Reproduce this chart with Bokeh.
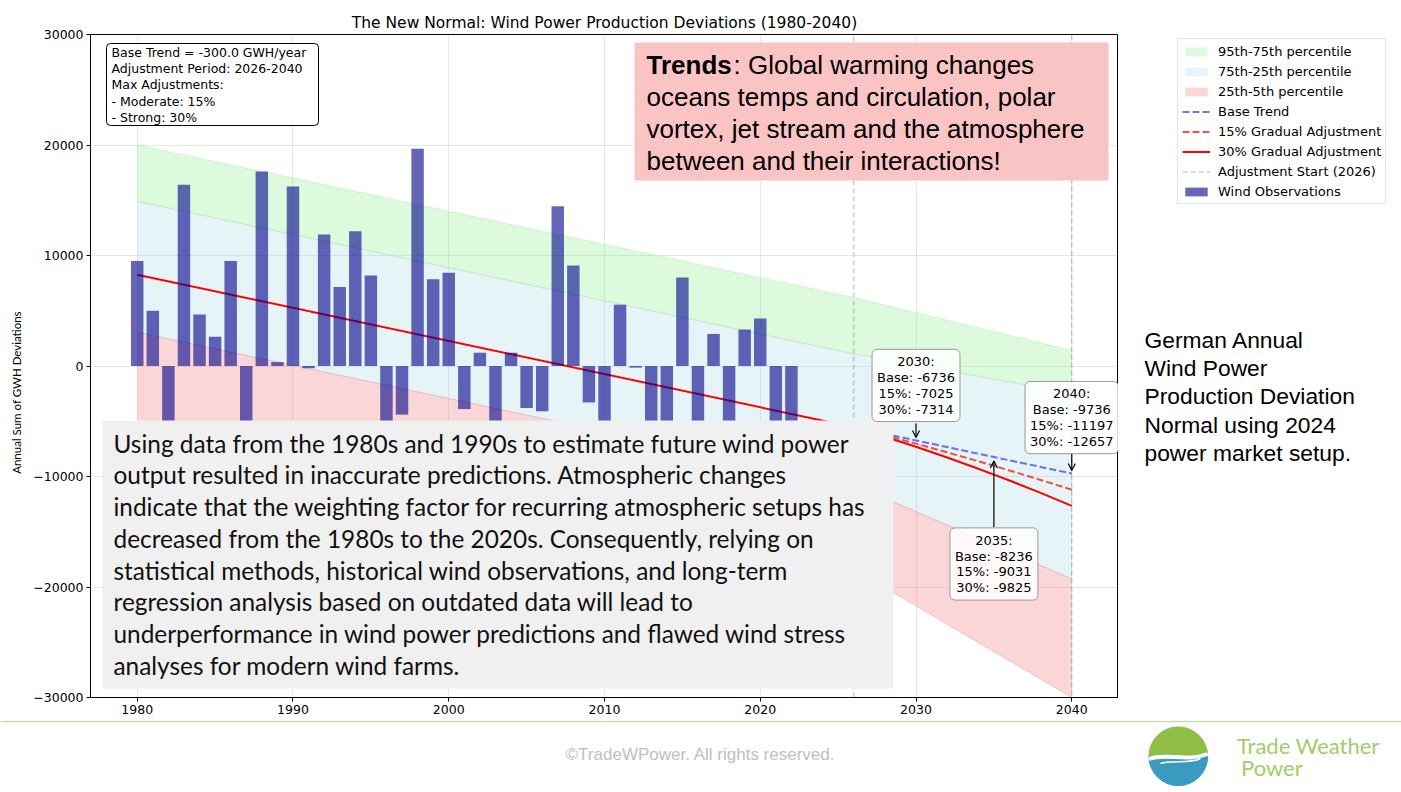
import math
from bokeh.plotting import figure
from bokeh.layouts import column, row
from bokeh.models import (Range1d, Label, Arrow, OpenHead, Legend, LegendItem,
                          BoxAnnotation, FixedTicker, CustomJSTickFormatter, Span)
from bokeh.embed import file_html
from bokeh.resources import INLINE

# ---------------- data ----------------
YEARS = list(range(1980, 2023))
WIND_OBS = [9500, 5000, -7000, 16400, 4650, 2650, 9500, -9500, 17600, 350,
            16250, -200, 11900, 7150, 12200, 8200, -8000, -4400, 19650, 7850,
            8450, -3900, 1200, -6500, 1200, -3800, -4100, 14450, 9100, -3300,
            -11000, 5550, -150, -7500, -10000, 8000, -8500, 2900, -12000, 3300,
            4300, -9000, -6500]

TREND_SLOPE = -300.0
TREND_YEARS = [1980, 2026]
TREND_VALUES = [8264, -5536]

ADJ_START = 2026
ADJ_END = 2040
MAX_ADJ = [15, 30]

PROJ_YEARS = [2026, 2028, 2030, 2032, 2034, 2035, 2036, 2038, 2040]
BASE_PROJ = [-5536, -6136, -6736, -7336, -7936, -8236, -8536, -9136, -9736]
ADJ15_PROJ = [-5536, -6267, -7025, -7808, -8616, -9031, -9451, -10311, -11197]
ADJ30_PROJ = [-5536, -6399, -7314, -8279, -9296, -9825, -10365, -11485, -12657]

BAND_YEARS = [1980, 2026, 2040]
P95 = [20000, 6200, 1400]
P75 = [14900, 1100, -2450]
P25 = [3060, -10740, -19260]
P5 = [-9000, -18400, -30000]

ANN_YEARS = [2030, 2035, 2040]
ANN_BASE = [-6736, -8236, -9736]
ANN_15 = [-7025, -9031, -11197]
ANN_30 = [-7314, -9825, -12657]

X_TICKS = [1980, 1990, 2000, 2010, 2020, 2030, 2040]
Y_TICKS = [-30000, -20000, -10000, 0, 10000, 20000, 30000]
X_START, X_END = 1977, 2043
Y_START, Y_END = -30000, 30000

TITLE = "The New Normal: Wind Power Production Deviations (1980-2040)"
Y_LABEL = "Annual Sum of GWH Deviations"
TRENDS_LINES = ["oceans temps and circulation, polar",
                "vortex, jet stream and the atmosphere",
                "between and their interactions!"]
NOTE_LINES = ["Using data from the 1980s and 1990s to estimate future wind power",
              "output resulted in inaccurate predictions. Atmospheric changes",
              "indicate that the weighting factor for recurring atmospheric setups has",
              "decreased from the 1980s to the 2020s. Consequently, relying on",
              "statistical methods, historical wind observations, and long-term",
              "regression analysis based on outdated data will lead to",
              "underperformance in wind power predictions and flawed wind stress",
              "analyses for modern wind farms."]
SIDE_LINES = ["German Annual", "Wind Power", "Production Deviation",
              "Normal using 2024", "power market setup."]

# ---------------- layout helpers ----------------
W, H_MAIN, H_FOOT = 1401, 720, 72
W_LEFT, W_SIDE = 26, 283
FL, FT, FB = 90, 34, 23
W_PLOT = W - W_LEFT - W_SIDE
FW, FH = W_PLOT - (FL - W_LEFT), H_MAIN - FT - FB
PXY = (Y_END - Y_START) / FH


def sx(px):
    return X_START + (px - FL) * (X_END - X_START) / FW


def sy(py):
    return Y_END - (py - FT) * (Y_END - Y_START) / FH


DV = "DejaVu Sans"

p = figure(width=W_PLOT, height=H_MAIN, x_range=Range1d(X_START, X_END),
           y_range=Range1d(Y_START, Y_END), toolbar_location=None,
           output_backend="svg", min_border_left=FL - W_LEFT, min_border_right=0,
           min_border_top=FT, min_border_bottom=FB, title=TITLE)
p.frame_align = False
p.title.align = "center"
p.title.text_font = DV
p.title.text_font_size = "15.5px"
p.title.text_font_style = "normal"
p.title.text_color = "black"
p.title.standoff = 6
p.outline_line_color = "black"
p.outline_line_alpha = 1
p.background_fill_color = "white"

for ax in (p.xaxis, p.yaxis):
    ax.minor_tick_line_color = None
    ax.major_tick_in = 0
    ax.major_tick_out = 4
    ax.major_label_text_font = DV
    ax.major_label_text_font_size = "12.5px"
    ax.major_label_text_color = "black"
    ax.axis_line_color = "black"
    ax.major_tick_line_color = "black"
p.xaxis.ticker = FixedTicker(ticks=X_TICKS)
p.yaxis.ticker = FixedTicker(ticks=Y_TICKS)
p.xaxis.major_label_standoff = 3
p.yaxis.major_label_standoff = 3
p.yaxis.formatter = CustomJSTickFormatter(
    code="return tick < 0 ? '\u2212' + Math.abs(tick) : String(tick);")
p.grid.grid_line_color = "#b0b0b0"
p.grid.grid_line_alpha = 0.3

# bands
r_g = p.varea(x=BAND_YEARS, y1=P75, y2=P95, fill_color="lightgreen", fill_alpha=0.3)
r_b = p.varea(x=BAND_YEARS, y1=P25, y2=P75, fill_color="lightblue", fill_alpha=0.3)
r_r = p.varea(x=BAND_YEARS, y1=P5, y2=P25, fill_color="lightcoral", fill_alpha=0.32)
for arr, col in ((P95, "lightgreen"), (P75, "lightgreen"), (P75, "lightblue"),
                 (P25, "lightblue"), (P25, "lightcoral"), (P5, "lightcoral")):
    p.line(BAND_YEARS, arr, color=col, alpha=0.35, line_width=1)

# historical trend, then bars on top
p.line(TREND_YEARS, TREND_VALUES, color="red", line_width=2)
p.vbar(x=YEARS, top=WIND_OBS, bottom=0, width=0.8,
       fill_color="darkblue", fill_alpha=0.6, line_color=None)

# adjustment lines
VLINE = dict(line_color="gray", line_alpha=0.4, line_dash="5 3", line_width=1.5)
p.line([ADJ_START, ADJ_START], [Y_START, Y_END], **VLINE)
p.add_layout(Span(location=ADJ_END, dimension="height", **VLINE))
BASE_STYLE = dict(line_color="blue", line_alpha=0.55, line_dash="7 3", line_width=2)
A15_STYLE = dict(line_color="red", line_alpha=0.7, line_dash="7 3", line_width=2)
A30_STYLE = dict(line_color="red", line_width=2)
p.line(PROJ_YEARS, BASE_PROJ, **BASE_STYLE)
p.line(PROJ_YEARS, ADJ15_PROJ, **A15_STYLE)
p.line(PROJ_YEARS, ADJ30_PROJ, **A30_STYLE)

# info box
info = (f"Base Trend = {TREND_SLOPE:.1f} GWH/year\n"
        f"Adjustment Period: {ADJ_START}-{ADJ_END}\n"
        f"Max Adjustments:\n- Moderate: {MAX_ADJ[0]}%\n- Strong: {MAX_ADJ[1]}%")
p.add_layout(BoxAnnotation(left=sx(106), right=sx(318), top=sy(43), bottom=sy(125),
                           fill_color="white", fill_alpha=0.9, line_color="black",
                           line_width=1, line_alpha=1, border_radius=4))
p.add_layout(Label(x=sx(111), y=sy(44), text=info, text_align="left",
                   text_baseline="top", text_font=DV, text_font_size="12.5px",
                   text_line_height=1.09, text_color="black"))

# big gray note box
p.add_layout(BoxAnnotation(left=sx(102), right=sx(893), top=sy(420), bottom=sy(688),
                           fill_color="#f0f0f0", fill_alpha=1, line_color=None))
for i, ln in enumerate(NOTE_LINES):
    p.add_layout(Label(x=sx(113), y=sy(442.5 + i * 31.75), text=ln, text_align="left",
                       text_baseline="middle", text_font="Lato",
                       text_font_size="24.4px", text_color="#111111"))

# trends pink box
p.add_layout(BoxAnnotation(left=sx(634), right=sx(1108), top=sy(42), bottom=sy(180),
                           fill_color="#fac4c4", fill_alpha=1, line_color=None))
p.add_layout(Label(x=sx(646), y=sy(64.5), text="Trends", text_align="left",
                   text_baseline="middle", text_font="Liberation Sans",
                   text_font_style="bold", text_font_size="26px", text_color="black"))
p.add_layout(Label(x=sx(733), y=sy(64.5), text=": Global warming changes",
                   text_align="left", text_baseline="middle",
                   text_font="Liberation Sans", text_font_size="26px", text_color="black"))
for i, ln in enumerate(TRENDS_LINES):
    p.add_layout(Label(x=sx(646), y=sy(96.5 + i * 32), text=ln, text_align="left",
                       text_baseline="middle", text_font="Liberation Sans",
                       text_font_size="26px", text_color="black"))

# annotations with arrows
BOX_OFF = [55, -107, 56]
ARR_START = [17, -70, 20]
ARR_END = [3, -4, 3]
for yr, b, a15, a30, bo, st, en in zip(ANN_YEARS, ANN_BASE, ANN_15, ANN_30,
                                        BOX_OFF, ARR_START, ARR_END):
    p.add_layout(Arrow(end=OpenHead(size=7, line_width=1.2, line_color="black"),
                       x_start=yr, y_start=b + st * PXY, x_end=yr, y_end=b + en * PXY,
                       line_width=1.2, line_color="black"))
    p.add_layout(Label(x=yr, y=b + bo * PXY,
                       text=f"{yr}:\nBase: {b}\n15%: {a15}\n30%: {a30}",
                       text_align="center", text_baseline="middle", text_font=DV,
                       text_font_size="13px", text_line_height=1.05,
                       text_color="black",
                       background_fill_color="white", background_fill_alpha=0.85,
                       border_line_color="#999999", border_line_width=1,
                       border_radius=5, padding=5))

# ---------------- left strip (y label) ----------------
lf = figure(width=W_LEFT, height=H_MAIN, x_range=Range1d(0, W_LEFT),
            y_range=Range1d(0, H_MAIN), toolbar_location=None, output_backend="svg",
            min_border=0, x_axis_type=None, y_axis_type=None)
lf.frame_align = False
lf.outline_line_color = None
lf.grid.visible = False
lf.add_layout(Label(x=16, y=H_MAIN - 392, text=Y_LABEL, angle=math.pi / 2,
                    text_align="center", text_baseline="middle", text_font="Lato",
                    text_font_size="11.5px", text_color="black"))

# ---------------- right strip (legend + side text) ----------------
sf = figure(width=W_SIDE, height=H_MAIN, x_range=Range1d(0, W_SIDE),
            y_range=Range1d(0, H_MAIN), toolbar_location=None, output_backend="svg",
            min_border=0, x_axis_type=None, y_axis_type=None)
sf.frame_align = False
sf.outline_line_color = None
sf.grid.visible = False
OFF_X = [-30, -20]
OFF_Y = [-30, -20]
lg_g = sf.varea(x=OFF_X, y1=OFF_Y, y2=OFF_X, fill_color="lightgreen", fill_alpha=0.3)
lg_b = sf.varea(x=OFF_X, y1=OFF_Y, y2=OFF_X, fill_color="lightblue", fill_alpha=0.3)
lg_r = sf.varea(x=OFF_X, y1=OFF_Y, y2=OFF_X, fill_color="lightcoral", fill_alpha=0.32)
lg_base = sf.line(x=OFF_X, y=OFF_Y, **BASE_STYLE)
lg_15 = sf.line(x=OFF_X, y=OFF_Y, **A15_STYLE)
lg_30 = sf.line(x=OFF_X, y=OFF_Y, **A30_STYLE)
lg_v = sf.line(x=OFF_X, y=OFF_Y, **VLINE)
lg_bar = sf.vbar(x=OFF_X, top=OFF_Y, width=1, fill_color="darkblue", fill_alpha=0.6,
                 line_color=None)
items = [
    LegendItem(label="95th-75th percentile", renderers=[lg_g]),
    LegendItem(label="75th-25th percentile", renderers=[lg_b]),
    LegendItem(label="25th-5th percentile", renderers=[lg_r]),
    LegendItem(label="Base Trend", renderers=[lg_base]),
    LegendItem(label="15% Gradual Adjustment", renderers=[lg_15]),
    LegendItem(label="30% Gradual Adjustment", renderers=[lg_30]),
    LegendItem(label=f"Adjustment Start ({ADJ_START})", renderers=[lg_v]),
    LegendItem(label="Wind Observations", renderers=[lg_bar]),
]
LEG_H = 2 * 4 + 8 * 16 + 7 * 4
legend = Legend(items=items, location=(1177 - (W - W_SIDE), H_MAIN - 40 - LEG_H),
                label_text_font=DV, label_text_font_size="13px",
                label_text_color="black", glyph_width=28,
                glyph_height=11, label_height=16, spacing=4, padding=4, margin=0,
                label_standoff=8, border_line_color="#cccccc", border_line_width=1,
                background_fill_color="white", background_fill_alpha=0.9)
sf.add_layout(legend)
for i, ln in enumerate(SIDE_LINES):
    sf.add_layout(Label(x=1144 - (W - W_SIDE), y=H_MAIN - (339.5 + i * 28.2), text=ln,
                        text_align="left", text_baseline="middle",
                        text_font="Liberation Sans", text_font_size="22.8px",
                        text_color="black"))

# ---------------- footer ----------------
f = figure(width=W, height=H_FOOT, x_range=Range1d(0, W), y_range=Range1d(0, H_FOOT),
           toolbar_location=None, output_backend="svg", min_border=0,
           x_axis_type=None, y_axis_type=None)
f.frame_align = False
f.outline_line_color = None
f.grid.visible = False
f.line([0, W], [71, 71], color="#c5dea8", line_width=1.5)
f.add_layout(Label(x=700, y=792 - 753.5, text="\u00a9TradeWPower. All rights reserved.",
                   text_align="center", text_baseline="middle",
                   text_font="Liberation Sans", text_font_size="17px",
                   text_color="#c0c0c0"))
f.wedge(x=[1177.8], y=[36.2], radius=29.4, start_angle=0, end_angle=math.pi,
        color="#8fbe45")
f.wedge(x=[1177.8], y=[36.2], radius=29.4, start_angle=math.pi, end_angle=2 * math.pi,
        color="#3a9bc0")
f.bezier(x0=[1148.6], y0=[33.5], x1=[1207.2], y1=[38.5], cx0=[1165], cy0=[40],
         cx1=[1185], cy1=[30], line_color="white", line_width=4)
f.bezier(x0=[1160], y0=[29], x1=[1200], y1=[34], cx0=[1172], cy0=[33],
         cx1=[1188], cy1=[28], line_color="white", line_width=1.5)
f.add_layout(Label(x=1236.5, y=792 - 745, text="Trade Weather",
                   text_align="left", text_baseline="middle", text_font="Lato",
                   text_font_size="22px", text_color="#a0cd68"))
f.add_layout(Label(x=1240.5, y=792 - 767, text="Power",
                   text_align="left", text_baseline="middle", text_font="Lato",
                   text_font_size="22px", text_color="#a0cd68"))

layout = column(row(lf, p, sf, spacing=0), f, spacing=0)
open("out.html", "w").write(file_html(layout, INLINE))
